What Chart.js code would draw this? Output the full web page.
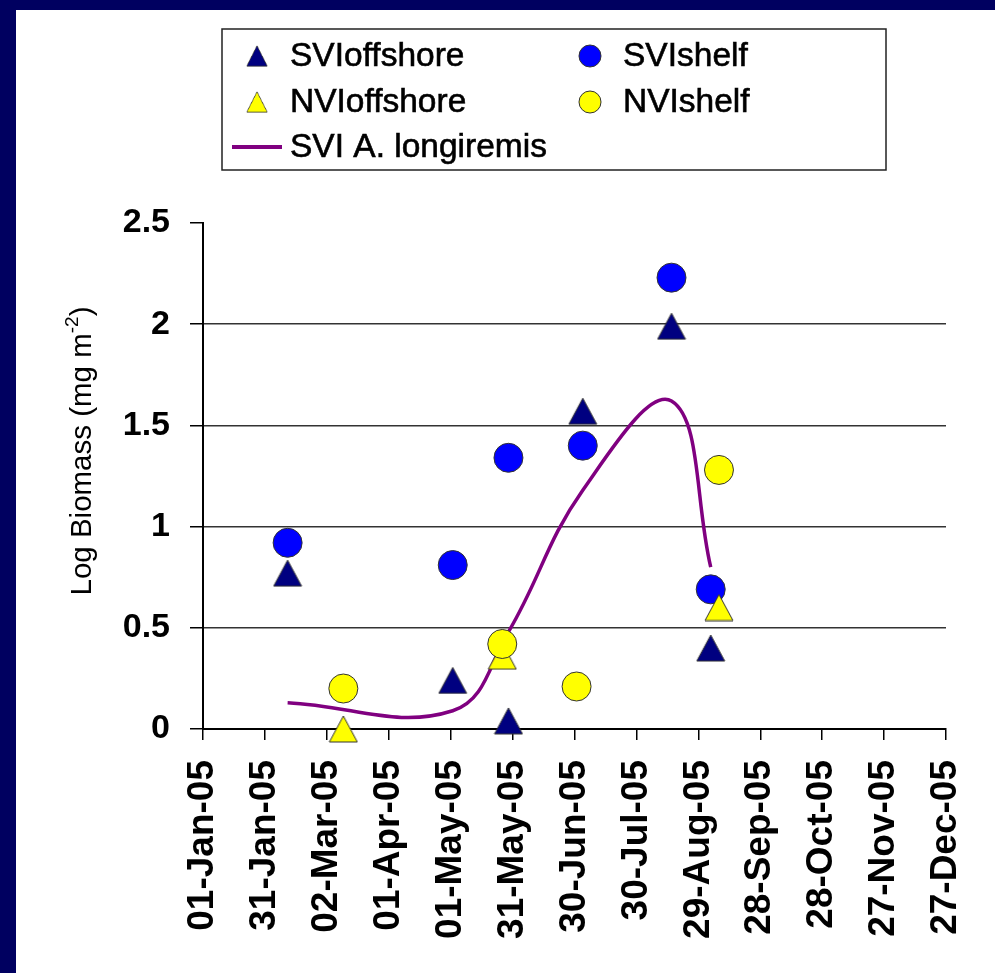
<!DOCTYPE html>
<html>
<head>
<meta charset="utf-8">
<script src="https://cdn.jsdelivr.net/npm/chart.js@4.4.1/dist/chart.umd.min.js"></script>
<style>
  html, body { margin: 0; padding: 0; background: #fff; }
  #frame { width: 979px; height: 963px; border-left: 16px solid #000060; border-top: 10px solid #000060; background: #fff; }
  canvas { display: block; }
</style>
</head>
<body>
<div id="frame"><canvas id="biomass-chart" width="979" height="963"></canvas></div>
<script>
// sampling dates + log biomass
var sviDates = ["2005-02-11", "2005-05-02", "2005-05-29", "2005-07-04", "2005-08-16", "2005-09-04"];
var sviOffshore = [0.77, 0.24, 0.04, 1.57, 1.99, 0.40];
var sviShelf = [0.92, 0.81, 1.34, 1.40, 2.23, 0.69];

var nviOffshoreDates = ["2005-03-10", "2005-05-26", "2005-09-08"];
var nviOffshore = [0.0, 0.36, 0.60];
var nviShelfDates = ["2005-03-10", "2005-05-26", "2005-07-01", "2005-09-08"];
var nviShelf = [0.20, 0.42, 0.21, 1.28];

var longiremis = [0.13, 0.09, 0.48, 1.18, 1.62, 0.80];

var xTickLabels = ["01-Jan-05", "31-Jan-05", "02-Mar-05", "01-Apr-05", "01-May-05", "31-May-05",
  "30-Jun-05", "30-Jul-05", "29-Aug-05", "28-Sep-05", "28-Oct-05", "27-Nov-05", "27-Dec-05"];
var yTicks = [0, 0.5, 1, 1.5, 2, 2.5];

var FONT = "'Liberation Sans', Arial, sans-serif";
Chart.defaults.font.family = FONT;
Chart.defaults.color = "#000";

function dayOf(s) {
  var p = s.split("-");
  return (Date.UTC(+p[0], +p[1] - 1, +p[2]) - Date.UTC(2005, 0, 1)) / 86400000;
}
function toPoints(dates, vals) {
  return dates.map(function (d, i) { return { x: dayOf(d), y: vals[i] }; });
}

// excel style triangle marker, centred on its bounding box
function triangleMarker(fill, w, h) {
  var c = document.createElement("canvas");
  c.width = w + 2; c.height = h + 2;
  var g = c.getContext("2d");
  g.beginPath();
  g.moveTo(c.width / 2, 1);
  g.lineTo(w + 1, h + 1);
  g.lineTo(1, h + 1);
  g.closePath();
  g.fillStyle = fill;
  g.fill();
  g.strokeStyle = "#333";
  g.lineWidth = 1;
  g.stroke();
  return c;
}
var navyTri = triangleMarker("#000080", 28, 26);
var yellowTri = triangleMarker("#FFFF00", 28, 26);

var legendBox = {
  id: "legendBox",
  afterDraw: function (chart) {
    var ctx = chart.ctx;
    ctx.save();
    ctx.fillStyle = "#fff";
    ctx.fillRect(206, 19, 664, 141);
    ctx.strokeStyle = "#222";
    ctx.lineWidth = 1.5;
    ctx.strokeRect(206, 19, 664, 141);

    var items = [
      { ds: 0, x: 241, y: 46 }, { ds: 1, x: 574, y: 46 },
      { ds: 2, x: 241, y: 92 }, { ds: 3, x: 574, y: 92 },
      { ds: 4, x: 241, y: 137 }
    ];
    ctx.font = "33.5px " + FONT;
    ctx.textBaseline = "middle";
    ctx.textAlign = "left";
    items.forEach(function (it) {
      var ds = chart.data.datasets[it.ds];
      if (ds.showLine) {
        ctx.strokeStyle = ds.borderColor;
        ctx.lineWidth = 4;
        ctx.beginPath();
        ctx.moveTo(it.x - 25, it.y);
        ctx.lineTo(it.x + 25, it.y);
        ctx.stroke();
      } else if (ds.pointStyle === "circle") {
        ctx.beginPath();
        ctx.arc(it.x, it.y, 11, 0, Math.PI * 2);
        ctx.fillStyle = ds.backgroundColor;
        ctx.fill();
        ctx.strokeStyle = "#333";
        ctx.lineWidth = 1;
        ctx.stroke();
      } else {
        ctx.drawImage(ds.pointStyle, it.x - 11, it.y - 11, 22, 22);
      }
      ctx.fillStyle = "#000";
      ctx.strokeStyle = "#000";
      ctx.lineWidth = 0.6;
      ctx.fillText(ds.label, it.x + 33, it.y + 1);
      ctx.strokeText(ds.label, it.x + 33, it.y + 1);
    });

    // y axis title with superscript
    ctx.translate(67, 441);
    ctx.rotate(-Math.PI / 2);
    var main = "Log Biomass (mg m", sup = "-2", end = ")";
    ctx.font = "29.5px " + FONT;
    var w1 = ctx.measureText(main).width, w3 = ctx.measureText(end).width;
    ctx.font = "19px " + FONT;
    var w2 = ctx.measureText(sup).width;
    var x0 = -(w1 + w2 + w3) / 2;
    ctx.font = "29.5px " + FONT;
    ctx.fillText(main, x0, 0);
    ctx.font = "19px " + FONT;
    ctx.fillText(sup, x0 + w1, -10);
    ctx.font = "29.5px " + FONT;
    ctx.fillText(end, x0 + w1 + w2, 0);
    ctx.restore();
  }
};

var ctx = document.getElementById("biomass-chart").getContext("2d");
new Chart(ctx, {
  type: "scatter",
  data: {
    datasets: [
      {
        label: "SVIoffshore",
        data: toPoints(sviDates, sviOffshore),
        pointStyle: navyTri, pointRadius: 14,
        backgroundColor: "#000080",
        clip: false, order: 4
      },
      {
        label: "SVIshelf",
        data: toPoints(sviDates, sviShelf),
        pointStyle: "circle", pointRadius: 14.5,
        backgroundColor: "#0000FF", borderColor: "#333", borderWidth: 1,
        clip: false, order: 3
      },
      {
        label: "NVIoffshore",
        data: toPoints(nviOffshoreDates, nviOffshore),
        pointStyle: yellowTri, pointRadius: 14,
        backgroundColor: "#FFFF00",
        clip: false, order: 2
      },
      {
        label: "NVIshelf",
        data: toPoints(nviShelfDates, nviShelf),
        pointStyle: "circle", pointRadius: 14.5,
        backgroundColor: "#FFFF00", borderColor: "#333", borderWidth: 1,
        clip: false, order: 1
      },
      {
        label: "SVI A. longiremis",
        data: toPoints(sviDates, longiremis),
        showLine: true, tension: 0.4,
        borderColor: "#800080", borderWidth: 3.5,
        pointRadius: 0,
        clip: false, order: 5
      }
    ]
  },
  options: {
    responsive: false,
    animation: false,
    layout: { padding: { top: 213, right: 49, left: 0, bottom: 0 } },
    plugins: {
      legend: { display: false },
      tooltip: { enabled: false }
    },
    scales: {
      x: {
        type: "linear",
        min: 0,
        max: 360,
        afterBuildTicks: function (scale) {
          scale.ticks = xTickLabels.map(function (_, i) { return { value: i * 30 }; });
        },
        afterFit: function (scale) {
          scale.height = 244;
          scale.paddingLeft = 0;
          scale.paddingRight = 0;
        },
        border: { color: "#000", width: 2 },
        grid: { drawOnChartArea: false, tickLength: 11, tickColor: "#000", lineWidth: 1.5 },
        ticks: {
          autoSkip: false,
          minRotation: 90,
          maxRotation: 90,
          padding: 20,
          font: { size: 37, weight: "bold" },
          callback: function (v, i) { return xTickLabels[i]; }
        }
      },
      y: {
        min: 0,
        max: 2.5,
        afterBuildTicks: function (scale) {
          scale.ticks = yTicks.map(function (v) { return { value: v }; });
        },
        afterFit: function (scale) {
          scale.width = 187;
          scale.paddingTop = 0;
          scale.paddingBottom = 0;
        },
        border: { color: "#000", width: 2 },
        grid: {
          tickLength: 13,
          tickColor: "#000",
          lineWidth: 1.5,
          color: function (c) { return c.tick && c.tick.value === 2.5 ? "rgba(0,0,0,0)" : "#333"; }
        },
        ticks: {
          padding: 20,
          font: { size: 34, weight: "bold" },
          callback: function (v) { return String(v); }
        }
      }
    }
  },
  plugins: [legendBox]
});
</script>
</body>
</html>
